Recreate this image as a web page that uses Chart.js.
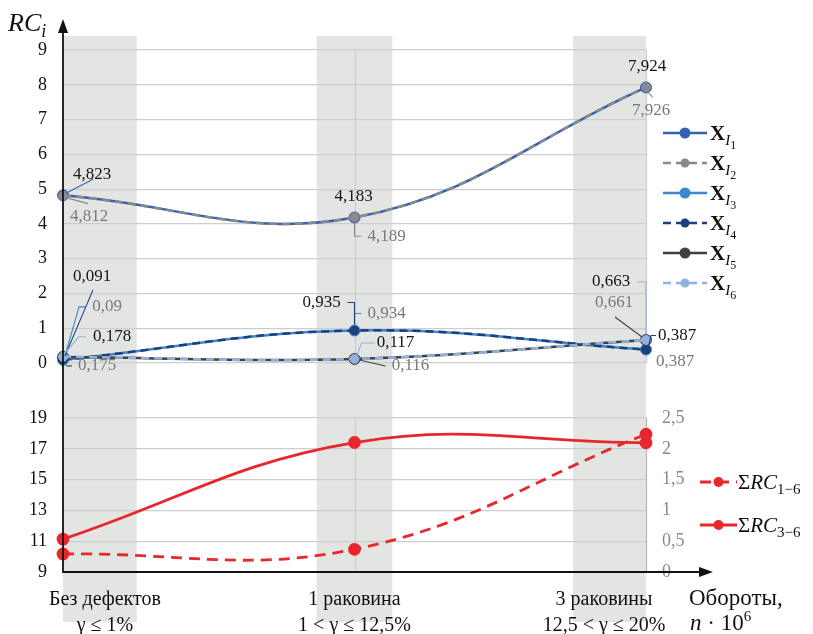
<!DOCTYPE html>
<html>
<head>
<meta charset="utf-8">
<script src="https://cdn.jsdelivr.net/npm/chart.js@4/dist/chart.umd.min.js"></script>
<style>
  html, body { margin: 0; padding: 0; background: #ffffff; }
  canvas { display: block; }
</style>
</head>
<body>
<canvas id="chart" width="813" height="634"></canvas>
<script>
// ---- data ----
const periods = [
  ['Без дефектов', 'γ ≤ 1%'],
  ['1 раковина', '1 < γ ≤ 12,5%'],
  ['3 раковины', '12,5 < γ ≤ 20%']
];
const periodIndex = [0, 1, 2];

const rcX1 = [4.823, 4.183, 7.924];
const rcX2 = [4.812, 4.189, 7.926];
const rcX3 = [0.09, 0.934, 0.387];
const rcX4 = [0.091, 0.935, 0.387];
const rcX5 = [0.175, 0.116, 0.661];
const rcX6 = [0.178, 0.117, 0.663];

const sumRC16 = [10.169, 10.474, 17.948];
const sumRC36 = [0.534, 2.102, 2.098];

const topTicks = [0, 1, 2, 3, 4, 5, 6, 7, 8, 9];
const lowTicks = [9, 11, 13, 15, 17, 19];
const rightTicks = [0, 0.5, 1, 1.5, 2, 2.5];

// ---- styles ----
const SERIF = "'Liberation Serif', 'DejaVu Serif', serif";
const BAND = '#e2e5e2';
const GRID = '#cdcdcd';
const RED = '#e8262c';

const topSeries = [
  { values: rcX1, index: '1', color: '#3461b5', dash: [], radius: 5.5, labelColor: '#151515' },
  { values: rcX2, index: '2', color: '#8a8a8a', dash: [8, 5], radius: 4.5, labelColor: '#7a7a7a' },
  { values: rcX3, index: '3', color: '#3b88cc', dash: [], radius: 5.5, labelColor: '#7a7a7a' },
  { values: rcX4, index: '4', color: '#1f3f7c', dash: [8, 5], radius: 4.5, labelColor: '#151515' },
  { values: rcX5, index: '5', color: '#404040', dash: [], radius: 5.5, labelColor: '#7a7a7a' },
  { values: rcX6, index: '6', color: '#8fb2e2', dash: [8, 5], radius: 4.5, labelColor: '#151515' }
];

// label centre offsets from the point, and leader polylines (offsets from the point)
const labelLayout = [
  [ {dx: 29, dy: -21, lead: [[3, -2], [30, -16]]},
    {dx: -1, dy: -21, lead: null},
    {dx: 1, dy: -21, lead: null} ],
  [ {dx: 26, dy: 21, lead: [[3, 2], [25, 8]]},
    {dx: 32, dy: 19, lead: [[0, 6], [0, 19], [7, 19]]},
    {dx: 5, dy: 23, lead: [[2, 5], [7, 10]]} ],
  [ {dx: 44, dy: -53, lead: [[2, -4], [16, -53], [23, -53]]},
    {dx: 32, dy: -17, lead: [[0, -6], [0, -17], [7, -17]]},
    {dx: 29, dy: 12, lead: null} ],
  [ {dx: 29, dy: -83, lead: [[2, -4], [30, -70]]},
    {dx: -33, dy: -28, lead: [[0, -6], [0, -28], [-7, -28]]},
    {dx: 31, dy: -14, lead: [[3, -5], [5, -14], [10, -14]]} ],
  [ {dx: 34, dy: 9, lead: [[3, 9], [9, 9]]},
    {dx: 56, dy: 7, lead: [[5, 1], [31, 7]]},
    {dx: -32, dy: -37, lead: [[-4, -3], [-31, -23]]} ],
  [ {dx: 49, dy: -20, lead: [[2, -4], [16, -20], [23, -20]]},
    {dx: 41, dy: -16, lead: [[3, -4], [7, -16], [20, -16]]},
    {dx: -35, dy: -58, lead: [[0, -6], [0, -58], [-9, -58]]} ]
];

// shaded periods along x and where each period caption sits
const bands = [[0, 0.253], [0.87, 1.13], [1.75, 2.0]];
const captionPos = [0.144, 1, 1.856];

const fmt = v => String(v).replace('.', ',');
const toPoints = arr => arr.map((v, i) => ({ x: periodIndex[i], y: v }));

const datasets = topSeries.map((s, i) => ({
  label: 'X' + s.index,
  data: toPoints(s.values),
  yAxisID: 'yTop',
  borderColor: s.color,
  backgroundColor: s.color,
  pointBackgroundColor: s.color,
  pointBorderColor: s.color,
  borderWidth: 2.5,
  borderDash: s.dash,
  pointRadius: s.radius,
  pointBorderWidth: 1,
  tension: 0.4,
  clip: false,
  order: 10 - i,
  rcStyle: s,
  rcLayout: labelLayout[i]
}));

datasets.push({
  label: 'sum16',
  data: toPoints(sumRC16),
  yAxisID: 'yLow',
  borderColor: RED, backgroundColor: RED,
  pointBackgroundColor: RED, pointBorderColor: RED,
  borderWidth: 2.8, borderDash: [11, 7],
  pointRadius: 5, tension: 0.4, clip: false, order: 2
});
datasets.push({
  label: 'sum36',
  data: toPoints(sumRC36),
  yAxisID: 'yR',
  borderColor: RED, backgroundColor: RED,
  pointBackgroundColor: RED, pointBorderColor: RED,
  borderWidth: 2.8, borderDash: [],
  pointRadius: 5, tension: 0.4, clip: false, order: 1
});

// ---- helpers ----
function drawRuns(ctx, x, y, runs, color) {
  ctx.fillStyle = color;
  ctx.textAlign = 'left';
  ctx.textBaseline = 'alphabetic';
  for (const r of runs) {
    ctx.font = r.font;
    ctx.fillText(r.t, x, y + (r.dy || 0));
    x += ctx.measureText(r.t).width + (r.gap || 0);
  }
  return x;
}

function legendSample(ctx, x1, x2, y, ds) {
  ctx.save();
  ctx.strokeStyle = ds.borderColor;
  ctx.lineWidth = ds.borderWidth;
  ctx.setLineDash(ds.borderDash || []);
  ctx.beginPath(); ctx.moveTo(x1, y); ctx.lineTo(x2, y); ctx.stroke();
  ctx.setLineDash([]);
  ctx.fillStyle = ds.pointBackgroundColor;
  ctx.beginPath(); ctx.arc((x1 + x2) / 2, y, ds.pointRadius, 0, Math.PI * 2); ctx.fill();
  ctx.restore();
}

// ---- plugins ----
const backdrop = {
  id: 'backdrop',
  beforeDraw(chart) {
    const {ctx, chartArea, scales} = chart;
    ctx.save();
    ctx.fillStyle = BAND;
    for (const b of bands) {
      const x1 = scales.x.getPixelForValue(b[0]);
      const x2 = scales.x.getPixelForValue(b[1]);
      ctx.fillRect(x1, chartArea.top, x2 - x1, 622 - chartArea.top);
    }
    ctx.restore();
  },
  beforeDatasetsDraw(chart) {
    const {ctx, chartArea, scales} = chart;
    const yT = scales.yTop, yL = scales.yLow, yR = scales.yR, x = scales.x;
    ctx.save();
    ctx.strokeStyle = GRID;
    ctx.lineWidth = 1.2;
    for (const v of [1, 2]) {
      const px = Math.round(x.getPixelForValue(v)) + 0.5;
      ctx.beginPath();
      ctx.moveTo(px, yT.getPixelForValue(9));
      ctx.lineTo(px, yT.getPixelForValue(0));
      ctx.stroke();
    }
    const p1 = Math.round(x.getPixelForValue(1)) + 0.5;
    ctx.beginPath();
    ctx.moveTo(p1, yL.getPixelForValue(19));
    ctx.lineTo(p1, yL.getPixelForValue(9));
    ctx.stroke();
    // right value axis of the lower panel
    ctx.strokeStyle = '#b5b5b5';
    ctx.beginPath();
    ctx.moveTo(chartArea.right + 0.5, yR.getPixelForValue(2.5));
    ctx.lineTo(chartArea.right + 0.5, yR.getPixelForValue(0));
    ctx.stroke();
    ctx.restore();
  }
};

const valueLabels = {
  id: 'valueLabels',
  afterDatasetsDraw(chart) {
    const ctx = chart.ctx;
    ctx.save();
    chart.data.datasets.forEach((ds, i) => {
      if (!ds.rcLayout) return;
      const meta = chart.getDatasetMeta(i);
      meta.data.forEach((pt, j) => {
        const lay = ds.rcLayout[j];
        if (lay.lead) {
          ctx.strokeStyle = ds.borderColor;
          ctx.lineWidth = 1.1;
          ctx.setLineDash([]);
          ctx.beginPath();
          lay.lead.forEach((p, k) => {
            const fx = pt.x + p[0], fy = pt.y + p[1];
            if (k === 0) ctx.moveTo(fx, fy); else ctx.lineTo(fx, fy);
          });
          ctx.stroke();
        }
        ctx.font = '17px ' + SERIF;
        ctx.fillStyle = ds.rcStyle.labelColor;
        ctx.textAlign = 'center';
        ctx.textBaseline = 'middle';
        ctx.fillText(fmt(ds.data[j].y), pt.x + lay.dx, pt.y + lay.dy);
      });
    });
    ctx.restore();
  }
};

const frame = {
  id: 'frame',
  afterDraw(chart) {
    const {ctx, chartArea, data} = chart;
    const L = chartArea.left, B = chartArea.bottom, R = chartArea.right;
    ctx.save();
    // axes with arrows
    ctx.strokeStyle = '#111';
    ctx.fillStyle = '#111';
    ctx.lineWidth = 1.8;
    ctx.beginPath(); ctx.moveTo(L, 30); ctx.lineTo(L, B); ctx.lineTo(702, B); ctx.stroke();
    ctx.beginPath(); ctx.moveTo(L, 19); ctx.lineTo(L - 5, 33); ctx.lineTo(L + 5, 33); ctx.closePath(); ctx.fill();
    ctx.beginPath(); ctx.moveTo(713, B); ctx.lineTo(699, B - 5); ctx.lineTo(699, B + 5); ctx.closePath(); ctx.fill();

    // axis titles
    drawRuns(ctx, 8, 31, [
      {t: 'RC', font: 'italic 26px ' + SERIF},
      {t: 'i', font: 'italic 18px ' + SERIF, dy: 6}
    ], '#111');
    ctx.font = '23px ' + SERIF;
    ctx.fillStyle = '#111';
    ctx.textAlign = 'left';
    ctx.textBaseline = 'alphabetic';
    ctx.fillText('Обороты,', 689, 605);
    drawRuns(ctx, 690, 630, [
      {t: 'n', font: 'italic 23px ' + SERIF},
      {t: ' · 10', font: '23px ' + SERIF},
      {t: '6', font: '15px ' + SERIF, dy: -9}
    ], '#111');

    // legend of the upper panel
    const lx = R + 17;
    data.datasets.forEach((ds, i) => {
      if (!ds.rcStyle) return;
      const y = 133 + i * 30;
      legendSample(ctx, lx, lx + 44, y, ds);
      drawRuns(ctx, lx + 47, y + 7, [
        {t: 'X', font: 'bold 21px ' + SERIF},
        {t: 'I', font: 'italic 15px ' + SERIF, dy: 5},
        {t: ds.rcStyle.index, font: '12px ' + SERIF, dy: 9}
      ], '#111');
    });

    // legend of the lower panel
    const sums = [
      {ds: data.datasets[6], sub: '1−6', y: 482},
      {ds: data.datasets[7], sub: '3−6', y: 525}
    ];
    for (const s of sums) {
      legendSample(ctx, R + 54, R + 91, s.y, s.ds);
      drawRuns(ctx, R + 92, s.y + 7, [
        {t: 'Σ', font: '21px ' + SERIF},
        {t: 'RC', font: 'italic 21px ' + SERIF},
        {t: s.sub, font: '15px ' + SERIF, dy: 5}
      ], '#111');
    }
    ctx.restore();
  }
};

// ---- chart ----
new Chart(document.getElementById('chart'), {
  type: 'line',
  data: { datasets },
  options: {
    responsive: false,
    animation: false,
    events: [],
    layout: { padding: { top: 36, right: 127, left: 0, bottom: 0 } },
    plugins: { legend: { display: false }, tooltip: { enabled: false } },
    scales: {
      x: {
        type: 'linear', min: 0, max: 2,
        grid: { display: false },
        border: { display: false },
        afterBuildTicks: s => { s.ticks = captionPos.map(v => ({ value: v })); },
        afterFit: s => { s.height = 62; },
        ticks: {
          autoSkip: false, maxRotation: 0, padding: 7, color: '#111',
          font: { family: SERIF, size: 20, lineHeight: 1.3 },
          callback: (v, i) => periods[i]
        }
      },
      yTop: {
        type: 'linear', position: 'left', stack: 'left', stackWeight: 354, weight: 2,
        min: -0.776, max: 9.4025,
        afterBuildTicks: s => { s.ticks = topTicks.map(v => ({ value: v })); },
        afterFit: s => { s.width = 63; },
        grid: { color: GRID, lineWidth: 1.2, drawTicks: false },
        border: { display: false },
        ticks: { autoSkip: false, padding: 16, color: '#111', font: { family: SERIF, size: 18 }, callback: v => fmt(v) }
      },
      yLow: {
        type: 'linear', position: 'left', stack: 'left', stackWeight: 182, weight: 1,
        min: 9, max: 20.818,
        afterBuildTicks: s => { s.ticks = lowTicks.map(v => ({ value: v })); },
        afterFit: s => { s.width = 63; },
        grid: { color: GRID, lineWidth: 1.2, drawTicks: false },
        border: { display: false },
        ticks: { autoSkip: false, padding: 16, color: '#111', font: { family: SERIF, size: 18 }, callback: v => fmt(v) }
      },
      yR: {
        type: 'linear', position: 'right',
        min: 0, max: 8.701,
        afterBuildTicks: s => { s.ticks = rightTicks.map(v => ({ value: v })); },
        afterFit: s => { s.width = 40; },
        grid: { display: false, drawTicks: false },
        border: { display: false },
        ticks: { autoSkip: false, padding: 16, color: '#8a8a8a', font: { family: SERIF, size: 18 }, callback: v => fmt(v) }
      }
    }
  },
  plugins: [backdrop, valueLabels, frame]
});
</script>
</body>
</html>
